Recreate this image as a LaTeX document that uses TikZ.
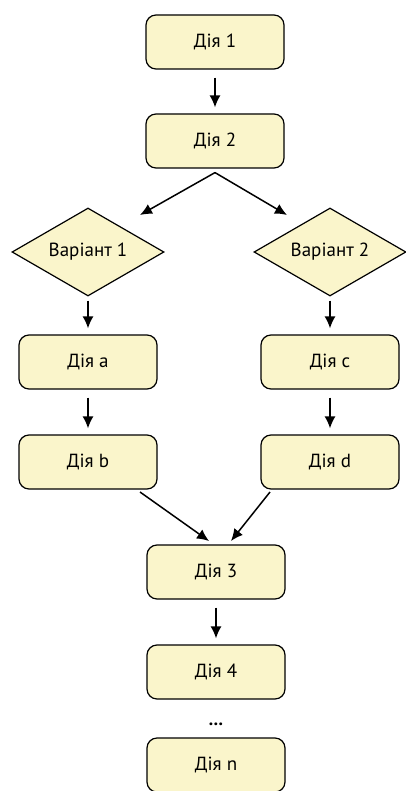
\documentclass[tikz,border=0pt]{standalone}
\usepackage{fontspec}
\setmainfont{PT Sans}
\usetikzlibrary{shapes.geometric, arrows.meta}

\definecolor{boxfill}{RGB}{250,245,203}
\tikzset{
  act/.style={draw, line width=1.2pt, rounded corners=10pt, fill=boxfill,
    minimum width=138pt, minimum height=54pt, font=\fontsize{19}{22}\selectfont},
  cond/.style={draw, line width=1.2pt, diamond, fill=boxfill, aspect=1.75,
    minimum width=152pt, minimum height=88pt, inner sep=0pt, font=\fontsize{19}{22}\selectfont},
  arr/.style={-{Latex[length=12pt,width=11pt]}, line width=1.5pt}
}

\begin{document}
\begin{tikzpicture}[x=1pt, y=1pt]
\useasboundingbox (0,0) rectangle (405,-791);
% дії та умови
\node[act] (d1) at (215,-42) {Дія 1};
\node[act] (d2) at (215,-141) {Дія 2};
\node[cond] (v1) at (88,-252) {Варіант 1};
\node[cond] (v2) at (330,-252) {Варіант 2};
\node[act] (da) at (88,-362) {Дія a};
\node[act] (dc) at (330,-362) {Дія c};
\node[act] (db) at (88,-462) {Дія b};
\node[act] (dd) at (330,-462) {Дія d};
\node[act] (d3) at (216,-572) {Дія 3};
\node[act] (d4) at (216,-672) {Дія 4};
\node[font=\fontsize{18}{20}\bfseries] (dots) at (216,-724) {\dots};
\node[act] (dn) at (216,-765) {Дія n};
% вільні кінці стрілок
\coordinate (s1) at (140,-215);
\coordinate (s2) at (287,-215);
\coordinate (m1) at (140,-492);
\coordinate (m2) at (270,-492);
\coordinate (t1) at (209,-541);
\coordinate (t2) at (231,-541);
% стрілки
\draw[arr, shorten <=8pt, shorten >=6pt] (d1) -- (d2);
\draw[arr] (d2.south) ++(0,-4) -- (s1);
\draw[arr] (d2.south) ++(0,-4) -- (s2);
\draw[arr, shorten <=4pt, shorten >=6pt] (v1.south) -- (da.north);
\draw[arr, shorten <=4pt, shorten >=6pt] (v2.south) -- (dc.north);
\draw[arr, shorten <=8pt, shorten >=6pt] (da) -- (db);
\draw[arr, shorten <=8pt, shorten >=6pt] (dc) -- (dd);
\draw[arr] (m1) -- (t1);
\draw[arr] (m2) -- (t2);
\draw[arr, shorten <=8pt, shorten >=6pt] (d3) -- (d4);
\end{tikzpicture}
\end{document}
